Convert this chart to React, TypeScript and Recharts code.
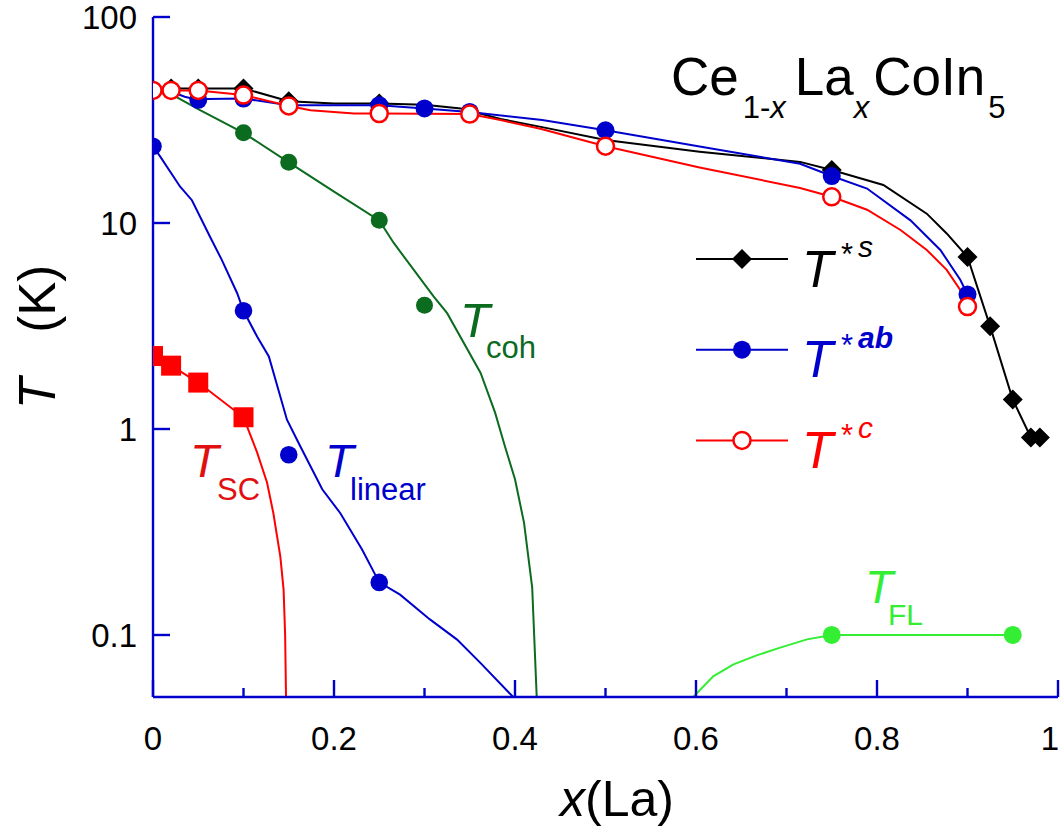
import { ComposedChart, Line, Scatter, XAxis, YAxis, Legend } from 'recharts';

// Ce1-xLaxCoIn5 phase diagram: characteristic temperatures vs La content

const FONT = 'Arial, "Liberation Sans", Helvetica, sans-serif';
const FRAME = '#0000cc';
const BLACK = '#000000';
const BLUE = '#0000cc';
const RED = '#ff0000';
const DARK_GREEN = '#0b6b1f';
const LIGHT_GREEN = '#33ee33';

// axis ticks
const xTicks = [0, 0.1, 0.2, 0.3, 0.4, 0.5, 0.6, 0.7, 0.8, 0.9, 1];
const xLabels = ['0', '', '0.2', '', '0.4', '', '0.6', '', '0.8', '', '1'];
const yTicks = [0.1, 1, 10, 100];
const yLabels = ['0.1', '1', '10', '100'];

// T*s (black diamonds)
const tsX = [0, 0.02, 0.05, 0.1, 0.15, 0.25, 0.75, 0.9, 0.925, 0.95, 0.97, 0.98];
const tsT = [44.5, 45, 45, 45, 39, 38, 18.1, 6.84, 3.15, 1.39, 0.91, 0.91];
const tsGuideX = [0, 0.02, 0.05, 0.1, 0.15, 0.2, 0.25, 0.3, 0.34, 0.384, 0.43, 0.5, 0.604, 0.715, 0.75, 0.807, 0.855, 0.877, 0.9, 0.925, 0.95, 0.97, 0.98];
const tsGuideT = [44.5, 45, 45, 45, 39, 38, 38, 37.5, 36, 32, 29.2, 25.3, 22.2, 19.8, 18.1, 15.3, 11.1, 8.9, 6.84, 3.15, 1.39, 0.91, 0.91];

// T*ab (blue dots)
const tabX = [0, 0.05, 0.1, 0.25, 0.3, 0.35, 0.5, 0.75, 0.9];
const tabT = [44, 39.6, 40.2, 37.3, 36, 34.6, 28.2, 16.9, 4.5];
const tabGuideX = [0, 0.02, 0.035, 0.05, 0.06, 0.1, 0.15, 0.25, 0.3, 0.35, 0.43, 0.5, 0.604, 0.715, 0.75, 0.789, 0.837, 0.87, 0.892, 0.9];
const tabGuideT = [44, 43.5, 41, 39.6, 40, 40.2, 37.3, 37.3, 36, 34.6, 31.6, 28.2, 23.5, 19.4, 16.9, 14.7, 10.3, 7.4, 5.3, 4.5];

// T*c (red open circles)
const tcX = [0, 0.02, 0.05, 0.1, 0.15, 0.25, 0.35, 0.5, 0.75, 0.9];
const tcT = [44, 44, 44, 41.8, 37, 34, 33.8, 23.6, 13.4, 3.93];
const tcGuideX = [0, 0.02, 0.05, 0.1, 0.15, 0.174, 0.222, 0.25, 0.35, 0.384, 0.428, 0.5, 0.604, 0.715, 0.75, 0.789, 0.826, 0.855, 0.877, 0.892, 0.9];
const tcGuideT = [44, 44, 44, 41.8, 37, 35.3, 34, 34, 33.8, 31.6, 28.7, 23.6, 18.6, 14.8, 13.4, 11.6, 9.25, 7.4, 5.92, 4.73, 3.93];

// T_coh (dark green)
const cohX = [0.1, 0.15, 0.25, 0.3];
const cohT = [27.4, 19.7, 10.3, 3.99];
const cohGuideX = [0.021, 0.052, 0.1, 0.15, 0.2, 0.25, 0.266, 0.31, 0.325, 0.362, 0.378, 0.389, 0.4, 0.41, 0.419, 0.424];
const cohGuideT = [42, 35.3, 27.4, 19.7, 14.2, 10.3, 8, 4.4, 3.65, 1.87, 1.2, 0.82, 0.57, 0.35, 0.17, 0.05];

// T_linear (blue)
const linX = [0, 0.1, 0.15, 0.25];
const linT = [23.6, 3.75, 0.75, 0.18];
const linGuideX = [0, 0.008, 0.03, 0.043, 0.063, 0.076, 0.093, 0.1, 0.115, 0.128, 0.148, 0.163, 0.187, 0.207, 0.231, 0.25, 0.273, 0.306, 0.336, 0.362, 0.398];
const linGuideT = [23.6, 21, 15, 12.9, 8.58, 6.62, 4.56, 3.75, 2.81, 2.25, 1.11, 0.82, 0.51, 0.39, 0.26, 0.18, 0.157, 0.119, 0.095, 0.073, 0.05];

// T_SC (red squares)
const scX = [0, 0.02, 0.05, 0.1];
const scT = [2.26, 2.03, 1.68, 1.14];
const scGuideX = [0, 0.02, 0.05, 0.1, 0.115, 0.126, 0.133, 0.1407, 0.1443, 0.146, 0.147];
const scGuideT = [2.26, 2.03, 1.68, 1.14, 0.77, 0.55, 0.39, 0.24, 0.166, 0.1, 0.05];

// T_FL (light green)
const flX = [0.75, 0.95];
const flT = [0.1, 0.1];
const flGuideX = [0.597, 0.619, 0.6415, 0.667, 0.693, 0.7227, 0.75, 0.95];
const flGuideT = [0.05, 0.063, 0.072, 0.0796, 0.0868, 0.0952, 0.1, 0.1];

const pts = (xs: number[], ts: number[]) => xs.map((x, i) => ({ x, T: ts[i] }));

// marker shapes
const Diamond = ({ cx, cy }: any) => (
  <polygon points={`${cx},${cy - 10} ${cx + 10},${cy} ${cx},${cy + 10} ${cx - 10},${cy}`} fill={BLACK} />
);
const dotShape = (color: string, r: number) => ({ cx, cy }: any) => <circle cx={cx} cy={cy} r={r} fill={color} />;
const Ring = ({ cx, cy }: any) => <circle cx={cx} cy={cy} r={8.5} fill="#fff" stroke={RED} strokeWidth={2.5} />;
const Square = ({ cx, cy }: any) => <rect x={cx - 10} y={cy - 10} width={20} height={20} fill={RED} />;

const XTick = ({ x, y, payload }: any) => {
  const i = xTicks.indexOf(payload.value);
  const label = xLabels[i] ?? '';
  const major = label !== '';
  const last = i === xTicks.length - 1;
  return (
    <g>
      <line x1={x} y1={y} x2={x} y2={y - (major ? 17 : 9)} stroke={FRAME} strokeWidth={2.4} />
      {major && (
        <text x={last ? x + 1 : x} y={y + 53} textAnchor={last ? 'end' : 'middle'} fontSize={33} fontFamily={FONT} fill="#000">
          {label}
        </text>
      )}
    </g>
  );
};

const YTick = ({ x, y, payload }: any) => {
  const i = yTicks.indexOf(payload.value);
  return (
    <g>
      <line x1={x} y1={y} x2={x + 17} y2={y} stroke={FRAME} strokeWidth={2.4} />
      <text x={x - 16} y={y + 12} textAnchor="end" fontSize={33} fontFamily={FONT} fill="#000">
        {yLabels[i]}
      </text>
    </g>
  );
};

const legendRows = [
  { sup: 's', color: BLACK, marker: 'diamond', bold: false },
  { sup: 'ab', color: BLUE, marker: 'dot', bold: true },
  { sup: 'c', color: RED, marker: 'ring', bold: false },
];

const LegendBox = () => (
  <svg width={250} height={270} style={{ overflow: 'visible' }}>
    {legendRows.map((row, i) => {
      const y = 34 + i * 90.7;
      return (
        <g key={row.sup}>
          <line x1={6} y1={y} x2={98} y2={y} stroke={row.color} strokeWidth={2} />
          {row.marker === 'diamond' && Diamond({ cx: 52, cy: y })}
          {row.marker === 'dot' && <circle cx={52} cy={y} r={9} fill={BLUE} />}
          {row.marker === 'ring' && Ring({ cx: 52, cy: y })}
          <text x={112} y={y + 27.5} fontSize={51} fontStyle="italic" fontFamily={FONT} fill={row.color}>T</text>
          <text x={151} y={y + 6} fontSize={31} fontFamily={FONT} fill={row.color}>*</text>
          <text x={168} y={y - 2} fontSize={30} fontStyle="italic" fontWeight={row.bold ? 'bold' : 'normal'} fontFamily={FONT} fill={row.color}>
            {row.sup}
          </text>
        </g>
      );
    })}
  </svg>
);

export default function App() {
  return (
    <div style={{ position: 'absolute', left: 0, top: 0, width: 1060, height: 829, background: '#fff', fontFamily: FONT }}>
      <ComposedChart width={1060} height={829} margin={{ top: 17, right: 2, bottom: 0, left: 0 }}>
        <XAxis
          dataKey="x"
          type="number"
          domain={[0, 1]}
          ticks={xTicks}
          interval={0}
          height={132}
          tickSize={0}
          tickMargin={0}
          tickLine={false}
          axisLine={{ stroke: FRAME, strokeWidth: 2.4 }}
          tick={<XTick />}
          allowDataOverflow
        />
        <XAxis xAxisId="top" orientation="top" type="number" domain={[0, 1]} height={0} tick={false} tickLine={false} axisLine={{ stroke: FRAME, strokeWidth: 2.4 }} />
        <YAxis
          dataKey="T"
          type="number"
          scale="log"
          domain={[0.05, 100]}
          ticks={yTicks}
          interval={0}
          width={153}
          tickSize={0}
          tickMargin={0}
          tickLine={false}
          axisLine={{ stroke: FRAME, strokeWidth: 2.4 }}
          tick={<YTick />}
          allowDataOverflow
        />
        <YAxis yAxisId="right" orientation="right" type="number" scale="log" domain={[0.05, 100]} width={0} tick={false} tickLine={false} axisLine={{ stroke: FRAME, strokeWidth: 2.4 }} />
        <Legend layout="horizontal" align="center" verticalAlign="middle" content={<LegendBox />} wrapperStyle={{ left: 690, top: 225, width: 250, height: 270 }} />

        <Line data={pts(cohGuideX, cohGuideT)} dataKey="T" stroke={DARK_GREEN} strokeWidth={2} dot={false} isAnimationActive={false} legendType="none" />
        <Line data={pts(linGuideX, linGuideT)} dataKey="T" stroke={BLUE} strokeWidth={2} dot={false} isAnimationActive={false} legendType="none" />
        <Line data={pts(scGuideX, scGuideT)} dataKey="T" stroke={RED} strokeWidth={2} dot={false} isAnimationActive={false} legendType="none" />
        <Line data={pts(flGuideX, flGuideT)} dataKey="T" stroke={LIGHT_GREEN} strokeWidth={2} dot={false} isAnimationActive={false} legendType="none" />
        <Line data={pts(tsGuideX, tsGuideT)} dataKey="T" stroke={BLACK} strokeWidth={2} dot={false} isAnimationActive={false} legendType="none" />
        <Line data={pts(tabGuideX, tabGuideT)} dataKey="T" stroke={BLUE} strokeWidth={2} dot={false} isAnimationActive={false} legendType="none" />
        <Line data={pts(tcGuideX, tcGuideT)} dataKey="T" stroke={RED} strokeWidth={2} dot={false} isAnimationActive={false} legendType="none" />

        <Scatter data={pts(cohX, cohT)} dataKey="T" shape={dotShape(DARK_GREEN, 8.5)} isAnimationActive={false} legendType="none" />
        <Scatter data={pts(linX, linT)} dataKey="T" shape={dotShape(BLUE, 8.8)} isAnimationActive={false} legendType="none" />
        <Scatter data={pts(scX, scT)} dataKey="T" shape={Square} isAnimationActive={false} legendType="none" />
        <Scatter data={pts(flX, flT)} dataKey="T" shape={dotShape(LIGHT_GREEN, 9)} isAnimationActive={false} legendType="none" />
        <Scatter data={pts(tsX, tsT)} dataKey="T" shape={Diamond} isAnimationActive={false} legendType="none" />
        <Scatter data={pts(tabX, tabT)} dataKey="T" shape={dotShape(BLUE, 9)} isAnimationActive={false} legendType="none" />
        <Scatter data={pts(tcX, tcT)} dataKey="T" shape={Ring} isAnimationActive={false} legendType="none" />
      </ComposedChart>

      <svg width={1060} height={829} style={{ position: 'absolute', left: 0, top: 0, pointerEvents: 'none' }} fontFamily={FONT}>
        {/* compound name */}
        <text x={671} y={95} fontSize={53} fill="#000">
          Ce
          <tspan fontSize={31} dx={4} dy={23}>1-</tspan>
          <tspan fontSize={31} fontStyle="italic">x</tspan>
          <tspan fontSize={53} dx={9} dy={-23}>La</tspan>
          <tspan fontSize={31} fontStyle="italic" dy={23}>x</tspan>
          <tspan fontSize={53} dx={4} dy={-23}>CoIn</tspan>
          <tspan fontSize={31} dx={3} dy={23}>5</tspan>
        </text>

        {/* curve labels */}
        <text x={190} y={477} fontSize={47} fontStyle="italic" fill="#e01010">T</text>
        <text x={217} y={500} fontSize={31} fill="#e01010">SC</text>
        <text x={325} y={477} fontSize={47} fontStyle="italic" fill={BLUE}>T</text>
        <text x={350} y={500} fontSize={31} fill={BLUE}>linear</text>
        <text x={460} y={337} fontSize={49} fontStyle="italic" fill={DARK_GREEN}>T</text>
        <text x={486} y={358} fontSize={31} fill={DARK_GREEN}>coh</text>
        <text x={865} y={603} fontSize={46} fontStyle="italic" fill={LIGHT_GREEN}>T</text>
        <text x={888} y={625} fontSize={30} fill={LIGHT_GREEN}>FL</text>

        {/* axis titles */}
        <text x={560} y={816} fontSize={50} fill="#000">
          <tspan fontStyle="italic">x</tspan>(La)
        </text>
        <text transform="translate(55,409) rotate(-90)" fontSize={51} fill="#000">
          <tspan fontStyle="italic">T</tspan>
          <tspan dx={45}>(K)</tspan>
        </text>
      </svg>
    </div>
  );
}
